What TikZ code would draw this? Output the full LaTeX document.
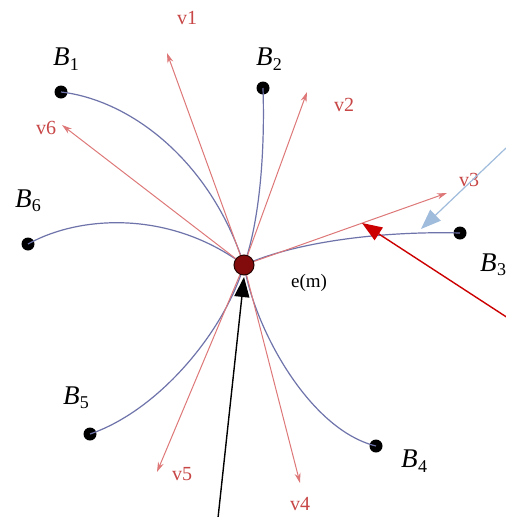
\documentclass[tikz,border=0pt]{standalone}
\usepackage{fontspec}
\setmainfont{Liberation Serif}
\usetikzlibrary{arrows.meta}
\definecolor{vpink}{RGB}{222,120,120}
\definecolor{vtext}{RGB}{200,70,70}
\definecolor{bline}{RGB}{110,115,170}
\definecolor{lblue}{RGB}{160,188,220}
\definecolor{cred}{RGB}{204,0,0}
\definecolor{cdark}{RGB}{130,12,12}
\tikzset{
  dot/.style={circle,fill=black,inner sep=0pt,minimum size=13pt},
  blab/.style={font=\fontsize{27}{27}\selectfont\itshape,inner sep=1pt},
  vlab/.style={font=\fontsize{20}{20}\selectfont,text=vtext,inner sep=1pt},
  vel/.style={vpink,line width=1pt,-{Stealth[length=10pt,width=6pt]}},
  bcurve/.style={bline,line width=1.2pt},
  ann/.style={line width=1.4pt,-{Triangle[length=20pt,width=15pt]}}
}
\newcommand{\Blab}[1]{B\kern0.5pt\raisebox{-0.35ex}{\fontsize{18}{18}\selectfont\upshape #1}}
\begin{document}
\begin{tikzpicture}[x=1pt,y=-1pt]
\useasboundingbox (0,0) rectangle (506,517);
\fill[white] (0,0) rectangle (506,517);
% center
\coordinate (cc) at (244,265);
% dots
\node[dot] (b1) at (61,92) {};
\node[dot] (b2) at (263,88) {};
\node[dot] (b3) at (460,233) {};
\node[dot] (b4) at (376,446) {};
\node[dot] (b5) at (90,434) {};
\node[dot] (b6) at (28,244) {};
% blue curves
\draw[bcurve] (b1.center) .. controls (130,100) and (210,160) .. (cc);
\draw[bcurve] (b2.center) .. controls (265,150) and (260,220) .. (cc);
\draw[bcurve] (b3.center) .. controls (390,231) and (300,240) .. (cc);
\draw[bcurve] (cc) .. controls (255,330) and (310,430) .. (b4.center);
\draw[bcurve] (b5.center) .. controls (160,410) and (225,330) .. (cc);
\draw[bcurve] (b6.center) .. controls (80,215) and (170,210) .. (cc);
% velocity arrows
\coordinate (t1) at (167,53);
\coordinate (t2) at (307,92);
\coordinate (t3) at (447,193);
\coordinate (t4) at (300,483);
\coordinate (t5) at (157,472);
\coordinate (t6) at (62,125);
\foreach \t in {t1,t2,t3,t4,t5,t6} \draw[vel] (cc) -- (\t);
% center node
\node[circle,fill=cdark,draw=black!70!cdark,line width=1pt,inner sep=0pt,minimum size=20pt] (c) at (cc) {};
% labels
\node[blab] (l1) at (66,59) {\Blab{1}};
\node[blab] (l2) at (269,59) {\Blab{2}};
\node[blab] (l3) at (493,265) {\Blab{3}};
\node[blab] (l4) at (414,461) {\Blab{4}};
\node[blab] (l5) at (76,398) {\Blab{5}};
\node[blab] (l6) at (28,201) {\Blab{6}};
\node[vlab] (v1) at (187,18) {v1};
\node[vlab] (v2) at (344,105) {v2};
\node[vlab] (v3) at (469,180) {v3};
\node[vlab] (v4) at (300,504) {v4};
\node[vlab] (v5) at (182,474) {v5};
\node[vlab] (v6) at (46,128) {v6};
\node[font=\fontsize{19}{19}\selectfont,inner sep=1pt] (em) at (309,283) {e(m)};
% annotation arrows
\coordinate (a1) at (506,148);
\coordinate (a1t) at (421,229);
\coordinate (a2) at (508,318);
\coordinate (a2t) at (362,223);
\coordinate (a3) at (218,518);
\coordinate (a3t) at (244,277);
\draw[ann,lblue,line width=1.2pt] (a1) -- (a1t);
\draw[ann,cred] (a2) -- (a2t);
\draw[ann,black] (a3) -- (a3t);
\end{tikzpicture}
\end{document}
